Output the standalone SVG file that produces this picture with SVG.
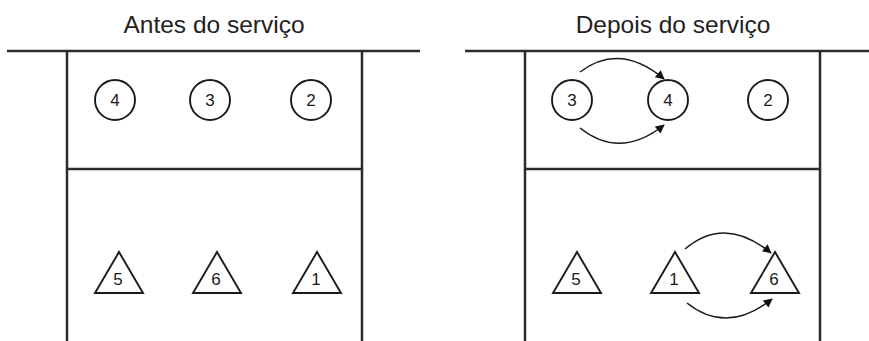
<svg xmlns="http://www.w3.org/2000/svg" width="869" height="341" viewBox="0 0 869 341">
<defs>
<style>
.frame{stroke:#2b2b2b;stroke-width:2.5;fill:none}
.node{stroke:#1a1a1a;stroke-width:1.9;fill:#fff}
.lbl{font-family:"Liberation Sans",Arial,sans-serif;font-size:17px;fill:#1a1a1a;text-anchor:middle}
.title{font-family:"Liberation Sans",Arial,sans-serif;font-size:24.5px;fill:#222;text-anchor:middle}
.arc{stroke:#1a1a1a;stroke-width:1.5;fill:none;marker-end:url(#ah)}
</style>
<marker id="ah" viewBox="0 0 10 10" refX="9" refY="5" markerWidth="10" markerHeight="9" markerUnits="userSpaceOnUse" orient="auto">
<path d="M0,0 L10,5 L0,10 z" fill="#111"/>
</marker>
</defs>
<rect width="869" height="341" fill="#fff"/>
<g id="frames">
<text class="title" x="214" y="33">Antes do serviço</text>
<path class="frame" d="M7,51 H420 M67,51 V341 M362,51 V341 M67,169 H362"/>
<text class="title" x="673" y="33">Depois do serviço</text>
<path class="frame" d="M465,51 H869 M525,51 V341 M820,51 V341 M525,169 H820"/>
</g>
<g id="left-4"><circle class="node" cx="115" cy="100" r="20"/><text class="lbl" x="115" y="106">4</text></g>
<g id="left-3"><circle class="node" cx="210" cy="100" r="20"/><text class="lbl" x="210" y="106">3</text></g>
<g id="left-2"><circle class="node" cx="311" cy="100" r="20"/><text class="lbl" x="311" y="106">2</text></g>
<g id="left-5"><path class="node" d="M119,252 L143,293 L95,293 Z"/><text class="lbl" x="118" y="285">5</text></g>
<g id="left-6"><path class="node" d="M217,252 L241,293 L193,293 Z"/><text class="lbl" x="216" y="285">6</text></g>
<g id="left-1"><path class="node" d="M317,252 L341,293 L293,293 Z"/><text class="lbl" x="316" y="285">1</text></g>
<g id="right-3"><circle class="node" cx="572" cy="100" r="20"/><text class="lbl" x="572" y="106">3</text></g>
<g id="right-4"><circle class="node" cx="668" cy="100" r="20"/><text class="lbl" x="668" y="106">4</text></g>
<g id="right-2"><circle class="node" cx="768" cy="100" r="20"/><text class="lbl" x="768" y="106">2</text></g>
<g id="right-5"><path class="node" d="M577,252 L601,293 L553,293 Z"/><text class="lbl" x="576" y="285">5</text></g>
<g id="right-1"><path class="node" d="M675,252 L699,293 L651,293 Z"/><text class="lbl" x="674" y="285">1</text></g>
<g id="right-6"><path class="node" d="M775,252 L799,293 L751,293 Z"/><text class="lbl" x="774" y="285">6</text></g>
<g id="connectors">
<path class="arc" d="M580,72 Q620,42 664,79"/>
<path class="arc" d="M580,128 Q620,160 664,125"/>
<path class="arc" d="M685,249 Q725,215 771,253"/>
<path class="arc" d="M687,303 Q727,335 772,299"/>
</g>
</svg>
